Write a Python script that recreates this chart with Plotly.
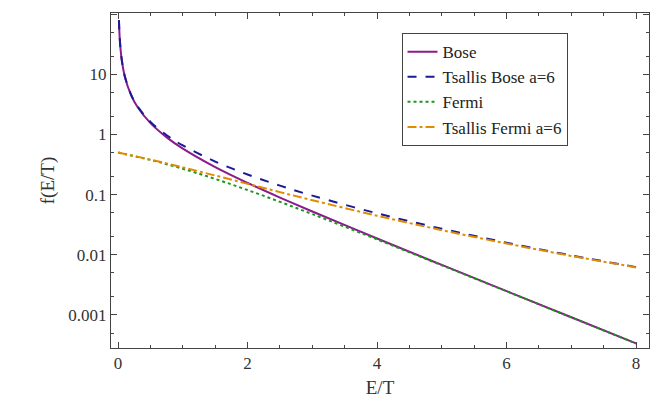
import plotly.graph_objects as go

x_b = [0.0125, 0.025, 0.05, 0.1, 0.2, 0.3, 0.5, 0.75, 1, 1.5, 2, 2.5, 3, 4, 5, 6, 7, 8]
bose = [79.5, 39.5, 19.5, 9.51, 4.517, 2.858, 1.542, 0.895, 0.582, 0.287, 0.1565, 0.0894, 0.0524, 0.01866, 0.00678, 0.002485, 0.000913, 0.000336]
tsallis_bose = [79.6, 39.6, 19.6, 9.59, 4.60, 2.94, 1.622, 0.973, 0.657, 0.355, 0.2165, 0.1411, 0.0962, 0.0489, 0.0271, 0.01587, 0.00976, 0.00623]
x_f = [0, 0.5, 1, 1.5, 2, 2.5, 3, 4, 5, 6, 7, 8]
fermi = [0.5, 0.3775, 0.2689, 0.1824, 0.1192, 0.0759, 0.0474, 0.0180, 0.00669, 0.002473, 0.000911, 0.000335]
tsallis_fermi = [0.5, 0.382, 0.284, 0.2077, 0.1511, 0.1101, 0.0807, 0.0446, 0.02566, 0.01538, 0.00957, 0.00617]

fig = go.Figure()
fig.add_trace(go.Scatter(x=x_b, y=bose, mode="lines", name="Bose",
                         line=dict(color="#8b1a8b", width=2, shape="spline")))
fig.add_trace(go.Scatter(x=x_b, y=tsallis_bose, mode="lines", name="Tsallis Bose a=6",
                         line=dict(color="#1a1a96", width=2, dash="dash", shape="spline")))
fig.add_trace(go.Scatter(x=x_f, y=fermi, mode="lines", name="Fermi",
                         line=dict(color="#1a961a", width=2, dash="dot", shape="spline")))
fig.add_trace(go.Scatter(x=x_f, y=tsallis_fermi, mode="lines", name="Tsallis Fermi a=6",
                         line=dict(color="#e08c00", width=2, dash="dashdot", shape="spline")))

ax = dict(showline=True, linecolor="#444", mirror="ticks", ticks="inside",
          tickcolor="#444", showgrid=False, zeroline=False,
          tickfont=dict(size=17, color="#333"), title_font=dict(size=19, color="#333"))
fig.update_xaxes(**ax, range=[-0.11, 8.2], tickvals=[0, 2, 4, 6, 8], ticklen=6,
                 minor=dict(ticks="inside", ticklen=3, dtick=0.5, tickcolor="#444"),
                 title_text="E/T", title_standoff=8)
fig.update_yaxes(**ax, type="log", range=[-3.55, 2.02], ticklen=6,
                 tickvals=[100, 10, 1, 0.1, 0.01, 0.001],
                 ticktext=["100", "10", "1", "0.1", "0.01", "0.001"],
                 minor=dict(ticks="inside", ticklen=3, tickcolor="#444"),
                 title_text="f(E/T)", title_standoff=8)
fig.update_layout(width=664, height=415, plot_bgcolor="white", paper_bgcolor="white",
                  font=dict(family="Liberation Serif"),
                  margin=dict(l=103, r=23, t=5, b=75),
                  legend=dict(x=0.54, y=0.94, xanchor="left", yanchor="top",
                              bordercolor="#444", borderwidth=1, bgcolor="white",
                              tracegroupgap=4,
                              font=dict(size=17, color="#222")))
fig.write_html("out.html")
